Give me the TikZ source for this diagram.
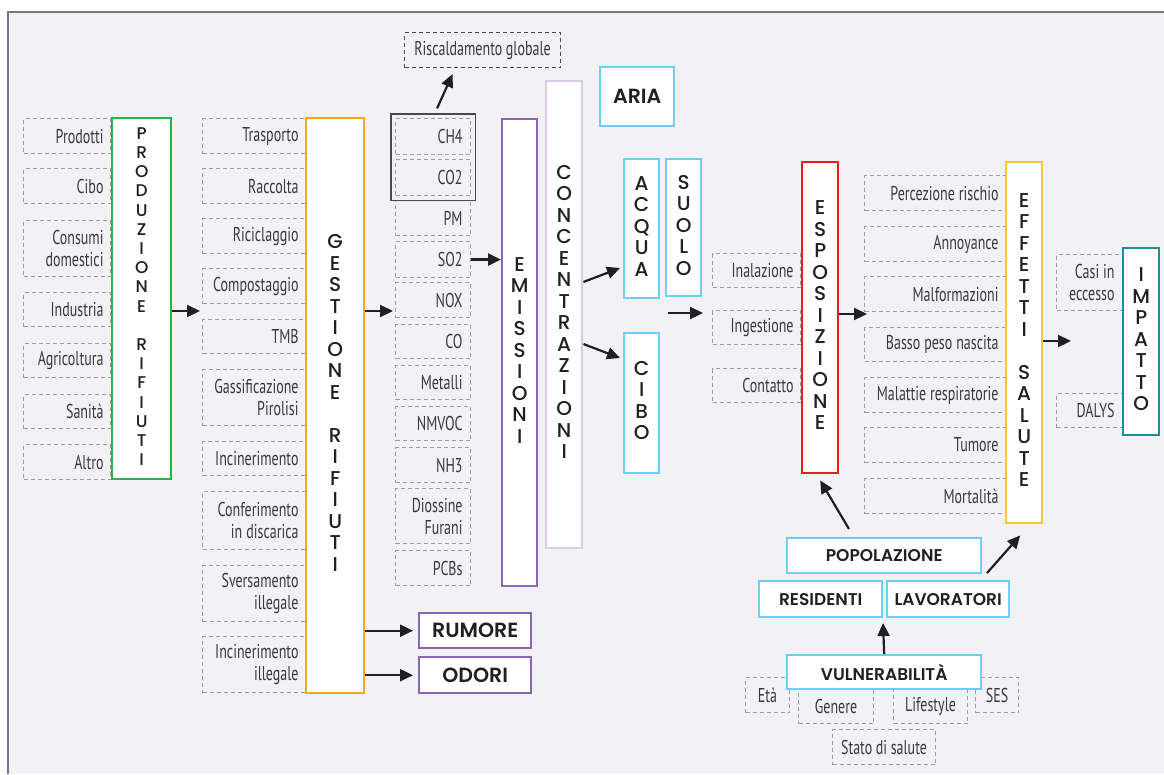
\documentclass[tikz,border=0pt]{standalone}
\usepackage{fontspec}
\setmainfont{PT Sans}
\newfontfamily\lblfont[FakeStretch=0.7]{PT Sans}
\newfontfamily\capfont{Poppins}[UprightFont={Poppins Medium},BoldFont={Poppins SemiBold}]
\usetikzlibrary{arrows.meta,positioning,fit}
\newcommand\vstack[1]{\begin{tabular}{@{}c@{}}#1\end{tabular}}
\definecolor{panel}{HTML}{F1F1F6}
\definecolor{frame}{HTML}{7D7290}
\definecolor{ink}{HTML}{231F20}
\definecolor{lblink}{HTML}{3A3A3A}
\definecolor{dashc}{HTML}{9D9D9D}
\definecolor{riscc}{HTML}{4A4A4A}
\definecolor{prodc}{HTML}{2BB34A}
\definecolor{gestc}{HTML}{F9A61A}
\definecolor{emisc}{HTML}{8F63AF}
\definecolor{concc}{HTML}{D8CCE6}
\definecolor{envc}{HTML}{6DCFF6}
\definecolor{espc}{HTML}{ED1C24}
\definecolor{effc}{HTML}{FFC734}
\definecolor{impc}{HTML}{1B8EA2}
\tikzset{
  cell/.style={draw=dashc,dash pattern=on 4pt off 3pt,line width=1.1pt,inner xsep=7pt,inner ysep=0pt,
    align=right,text=lblink,anchor=north west,font=\lblfont\fontsize{20}{22}\selectfont,
    execute at begin node={\spaceskip=3.6pt plus 1pt\relax}},
  stage/.style={draw=#1,fill=white,line width=2.4pt,inner sep=0pt,anchor=north west,
    text=ink,font=\capfont\fontsize{20}{21.5}\selectfont},
  stage/.default=envc,
  tag/.style={stage=#1,font=\capfont\bfseries\fontsize{17}{20}\selectfont},
  tag/.default=envc,
  bigtag/.style={stage=#1,font=\capfont\bfseries\fontsize{20.5}{22}\selectfont},
  bigtag/.default=envc,
  grp/.style={draw=riscc,line width=1.2pt,inner sep=4pt},
  arr/.style={-{Triangle[length=13pt,width=12pt]},line width=2.2pt,draw=ink},
}
\begin{document}
\begin{tikzpicture}[x=1pt,y=-1pt]
  \useasboundingbox (0,0) rectangle (1164,774);
  \fill[panel] (8,12) rectangle (1164,774);
  \draw[frame,line width=1.5pt] (8,774) -- (8,12) -- (1164,12);

  % sources
  \foreach \y/\h/\t [count=\i] in {118/35/Prodotti,168/35/Cibo,220/56/{Consumi\\domestici},
      292/34/Industria,343/34/Agricoltura,394/34/Sanità,444/35/Altro}
    \node[cell,text width=73pt,minimum height=\h] (src\i) at (23,\y) {\t};
  % waste management
  \foreach \y/\h/\t [count=\i] in {118/35/Trasporto,168/35/Raccolta,218/35/Riciclaggio,
      268/35/Compostaggio,319/34/TMB,369/56/{Gassificazione\\Pirolisi},441/34/Incinerimento,
      491/58/{Conferimento\\in discarica},565/56/{Sversamento\\illegale},636/56/{Incinerimento\\illegale}}
    \node[cell,text width=89pt,minimum height=\h] (wm\i) at (202,\y) {\t};
  % pollutants
  \foreach \y/\h/\t [count=\i] in {118/36/CH4,159/36/CO2,200/35/PM,241/36/SO2,282/35/NOX,
      324/34/CO,365/34/Metalli,406/34/NMVOC,447/35/NH3,488/55/{Diossine\\Furani},550/35/PCBs}
    \node[cell,inner xsep=8pt,text width=59pt,minimum height=\h] (gas\i) at (395,\y) {\t};
  \node[grp,fit=(gas1)(gas2)] (ghg) {};
  \node[cell,draw=riscc,align=center,minimum width=156pt,minimum height=35pt] (risc) at (404,32)
    {Riscaldamento globale};
  % exposure routes
  \foreach \y/\t [count=\i] in {253/Inalazione,310/Ingestione,368/Contatto}
    \node[cell,text width=74pt,minimum height=34] (via\i) at (712,\y) {\t};
  % health effects
  \foreach \y/\h/\t [count=\i] in {175/35/Percezione rischio,226/35/Annoyance,276/35/Malformazioni,
      327/34/Basso peso nascita,377/35/Malattie respiratorie,427/35/Tumore,478/35/Mortalità}
    \node[cell,text width=127pt,minimum height=\h] (fx\i) at (864,\y) {\t};
  % impact measures
  \node[cell,inner xsep=8pt,text width=50pt,minimum height=56pt] (casi) at (1056,254) {Casi in\\eccesso};
  \node[cell,inner xsep=8pt,text width=50pt,minimum height=34pt] (dalys) at (1056,393) {DALYS};
  % vulnerability factors
  \node[cell,minimum width=44pt,minimum height=35pt] (eta) at (745,677) {Età};
  \node[cell,minimum width=75pt,minimum height=35pt] (gen) at (798,688) {\raisebox{-4pt}{Genere}};
  \node[cell,minimum width=74pt,minimum height=35pt] (life) at (893,688) {\raisebox{-4pt}{Lifestyle}};
  \node[cell,minimum width=43pt,minimum height=35pt] (ses) at (975,677) {SES};
  \node[cell,minimum width=103pt,minimum height=35pt] (stato) at (832,729) {Stato di salute};

  % main stages
  \node[stage=prodc,minimum width=59pt,minimum height=361pt,font=\capfont\fontsize{17}{19.2}\selectfont]
    (prod) at (111,117) {\vstack{P\\R\\O\\D\\U\\Z\\I\\O\\N\\E\\ \\R\\I\\F\\I\\U\\T\\I}};
  \node[stage=gestc,minimum width=58pt,minimum height=575pt] (gest) at (305,117)
    {\vstack{G\\E\\S\\T\\I\\O\\N\\E\\ \\R\\I\\F\\I\\U\\T\\I}};
  \node[stage=emisc,minimum width=35pt,minimum height=467pt] (emis) at (501,118)
    {\vstack{E\\M\\I\\S\\S\\I\\O\\N\\I}};
  \node[stage=concc,minimum width=36pt,minimum height=467pt] (conc) at (545,80)
    {\vstack{C\\O\\N\\C\\E\\N\\T\\R\\A\\Z\\I\\O\\N\\I}};
  \node[bigtag,minimum width=74pt,minimum height=59pt] (aria) at (599,66) {ARIA};
  \node[stage,minimum width=35pt,minimum height=139pt] (acqua) at (623,158) {\vstack{A\\C\\Q\\U\\A}};
  \node[stage,minimum width=35pt,minimum height=137pt] (suolo) at (665,158) {\vstack{S\\U\\O\\L\\O}};
  \node[stage,minimum width=35pt,minimum height=140pt] (cibo) at (623,332) {\vstack{C\\I\\B\\O}};
  \node[stage=espc,minimum width=36pt,minimum height=311pt] (esp) at (801,161)
    {\vstack{E\\S\\P\\O\\S\\I\\Z\\I\\O\\N\\E}};
  \node[stage=effc,minimum width=36pt,minimum height=361pt] (eff) at (1005,161)
    {\vstack{E\\F\\F\\E\\T\\T\\I\\ \\S\\A\\L\\U\\T\\E}};
  \node[stage=impc,minimum width=36pt,minimum height=187pt] (imp) at (1122,247)
    {\vstack{I\\M\\P\\A\\T\\T\\O}};
  \node[bigtag=emisc,minimum width=112pt,minimum height=35pt] (rumore) at (418,612) {RUMORE};
  \node[bigtag=emisc,minimum width=112pt,minimum height=36pt] (odori) at (418,656) {ODORI};
  \node[tag,minimum width=194pt,minimum height=35pt] (pop) at (786,537) {POPOLAZIONE};
  \node[tag,minimum width=123pt,minimum height=36pt] (res) at (758,580) {RESIDENTI};
  \node[tag,minimum width=122pt,minimum height=36pt] (lav) at (886,580) {LAVORATORI};
  \node[tag,minimum width=194pt,minimum height=34pt] (vuln) at (786,654) {VULNERABILITÀ};

  % free arrow ends
  \coordinate (wmin) at (200,311);
  \coordinate (gasin) at (393,311);
  \coordinate (envout) at (668,313);
  \coordinate (fxin) at (867,314);
  \coordinate (impin) at (1071,341);
  \coordinate (popin) at (883,623);
  \coordinate (popout) at (849,529);
  \coordinate (lavout) at (987,573);

  % connectors
  \draw[arr] (prod.east |- wmin) -- (wmin);
  \draw[arr] (gest.east |- gasin) -- (gasin);
  \draw[arr] ([xshift=4pt,yshift=5pt]ghg.north) -- ([xshift=-30pt,yshift=-6pt]risc.south);
  \draw[arr] (gas4.east) -- (emis.west |- gas4.east);
  \draw[arr] (conc.east |- 0,282) -- ([xshift=-3pt]acqua.west |- 0,268);
  \draw[arr] (conc.east |- 0,344) -- ([xshift=-3pt]cibo.west |- 0,358);
  \draw[arr] (envout) -- ([xshift=-9pt]via2.west |- envout);
  \draw[arr] (esp.east |- fxin) -- (fxin);
  \draw[arr] (eff.east |- impin) -- (impin);
  \draw[arr] (gest.east |- rumore.west) -- ([xshift=-5pt]rumore.west);
  \draw[arr] (gest.east |- odori.west) -- ([xshift=-5pt]odori.west);
  \draw[arr] (vuln.north) -- (popin);
  \draw[arr] (popout) -- ([yshift=-6pt]esp.south);
  \draw[arr] (lavout) -- ([xshift=-4pt,yshift=-11pt]eff.south);
\end{tikzpicture}
\end{document}
